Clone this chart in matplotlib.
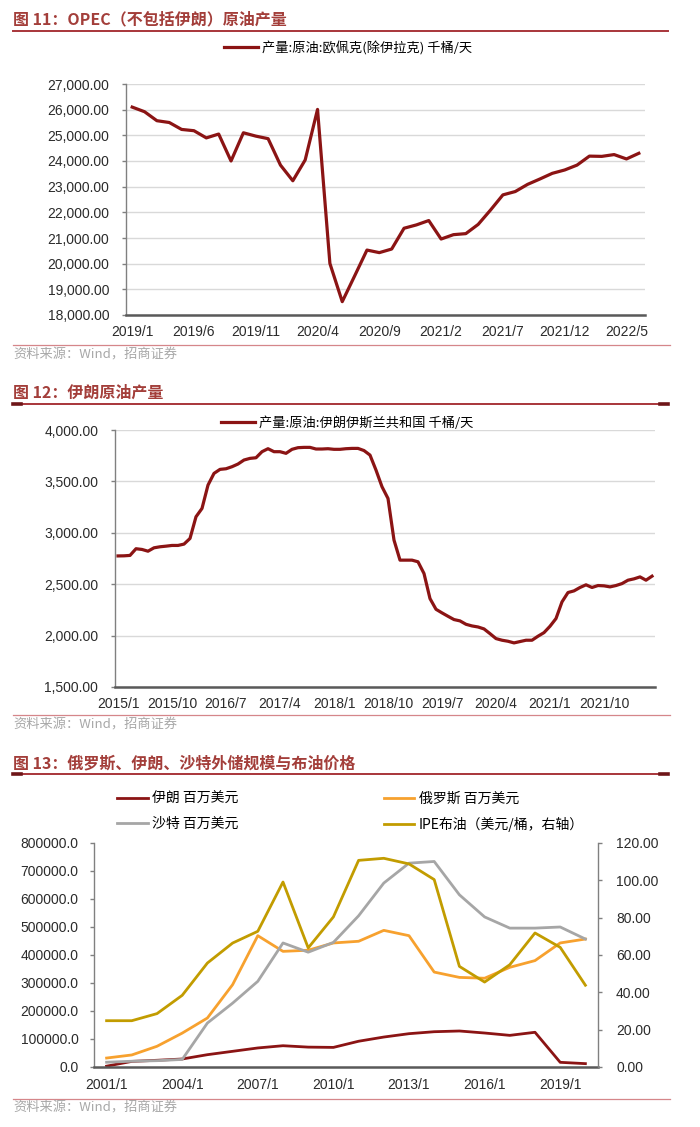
import numpy as np
import pandas as pd
import matplotlib
matplotlib.use('Agg')
import matplotlib.pyplot as plt
from matplotlib.lines import Line2D
from matplotlib.ticker import FuncFormatter, MultipleLocator

plt.rcParams['font.family'] = ['Liberation Sans', 'Noto Sans CJK SC', 'DejaVu Sans']
CJK = ['Noto Sans CJK SC', 'DejaVu Sans']

# 图11 OPEC（不包括伊朗）原油产量, 2019/1 - 2022/6, 千桶/天
opec_months = [f'{p.year}/{p.month}' for p in pd.period_range('2019-01', '2022-06', freq='M')]
opec_prod = [26100, 25920, 25570, 25500, 25230, 25180, 24900, 25050, 24000, 25100,
             24970, 24870, 23840, 23230, 24040, 26010, 20010, 18520, 19520, 20530,
             20430, 20570, 21380, 21510, 21680, 20960, 21130, 21170, 21530, 22090,
             22680, 22810, 23090, 23300, 23520, 23650, 23840, 24190, 24180, 24250,
             24080, 24300]

# 图12 伊朗原油产量, 2015/1 - 2022/6, 千桶/天
iran_months = [f'{p.year}/{p.month}' for p in pd.period_range('2015-01', '2022-06', freq='M')]
iran_prod = [2775, 2776, 2780, 2845, 2838, 2821, 2854, 2864, 2870, 2877,
             2877, 2890, 2945, 3156, 3237, 3464, 3578, 3617, 3623, 3643,
             3669, 3708, 3724, 3730, 3789, 3818, 3789, 3789, 3773, 3812,
             3828, 3831, 3831, 3815, 3815, 3818, 3812, 3812, 3818, 3821,
             3821, 3800, 3756, 3610, 3448, 3334, 2929, 2734, 2734, 2734,
             2718, 2604, 2360, 2256, 2221, 2188, 2156, 2143, 2110, 2094,
             2084, 2065, 2019, 1971, 1955, 1945, 1929, 1942, 1955, 1955,
             1994, 2029, 2091, 2166, 2328, 2419, 2435, 2468, 2494, 2468,
             2487, 2484, 2474, 2487, 2506, 2539, 2552, 2571, 2539, 2578]

# 图13 外储规模（百万美元）与布油价格, 2001/1 - 2020/1
years = [f'{y}/1' for y in range(2001, 2021)]
iran_fx = [3000, 20000, 24000, 28600, 44000, 56000, 68000, 76000, 71000, 70000,
           92000, 107000, 119000, 126000, 128600, 121400, 113000, 124000, 16700, 12000]
russia_fx = [32000, 43000, 74000, 121000, 175000, 294000, 469000, 413000, 417000, 443000,
             449000, 488000, 469000, 339000, 320000, 317000, 356000, 380000, 443000, 457000]
saudi_fx = [17000, 20600, 22600, 27000, 157000, 228000, 306000, 443000, 410000, 445000,
            540000, 657000, 728000, 734000, 615000, 536000, 496000, 496000, 500000, 457000]
brent = [24.8, 24.8, 28.6, 38.4, 55.7, 66.4, 72.7, 99.1, 63.8, 80.4,
         110.7, 111.8, 108.8, 100.4, 53.9, 45.5, 54.8, 71.8, 64.1, 43.8]

W, H = 700, 1127
fig = plt.figure(figsize=(W / 100, H / 100), dpi=100)

DARK_RED = '#8B1414'
TITLE_C = '#A33E3A'
RULE_C = '#A8353A'
SRC_RULE_C = '#D5868A'
TICK_C = '#2B2B2B'


def px_axes(l, t, r, b):
    return fig.add_axes([l / W, 1 - b / H, (r - l) / W, (b - t) / H])


def ftext(x, y, s, **kw):
    fig.text(x / W, 1 - y / H, s, **kw)


def hline(x0, x1, y, **kw):
    fig.add_artist(Line2D([x0 / W, x1 / W], [1 - y / H] * 2, transform=fig.transFigure, **kw))


def header(y_title, y_rule, text, caps=True):
    ftext(13, y_title, text, ha='left', va='center', fontsize=11.5,
          fontweight='bold', color=TITLE_C, family=CJK)
    hline(13, 668, y_rule, color=RULE_C, lw=1.4)
    if caps:
        hline(13, 21, y_rule, color='#6E1518', lw=2.6)
        hline(660, 668, y_rule, color='#6E1518', lw=2.6)


def footer(y_rule, y_text):
    hline(13, 670, y_rule, color=SRC_RULE_C, lw=0.9)
    ftext(13, y_text, '资料来源：Wind，招商证券', ha='left', va='center',
          fontsize=9.5, color='#A8A8A8', family=CJK)


def style_axes(ax):
    ax.spines['top'].set_visible(False)
    ax.spines['right'].set_visible(False)
    ax.spines['left'].set_color('#808080')
    ax.spines['left'].set_linewidth(1.0)
    ax.spines['bottom'].set_color('#595959')
    ax.spines['bottom'].set_linewidth(1.8)
    ax.tick_params(axis='y', length=3, width=1, color='#808080', pad=9,
                   labelsize=10, labelcolor=TICK_C)
    ax.tick_params(axis='x', length=0, pad=7, labelsize=10, labelcolor=TICK_C)


def line_legend(x, y, handles, labels, **kw):
    fig.legend(handles, labels, loc='center', bbox_to_anchor=(x / W, 1 - y / H),
               frameon=False, prop={'family': CJK, 'size': 9.5},
               handlelength=2.6, handletextpad=0.3, borderpad=0, **kw)


# ---------- 图11 ----------
header(19, 31, '图 11：OPEC（不包括伊朗）原油产量', caps=False)
ax1 = px_axes(126, 84, 645, 315)
x1 = np.arange(len(opec_prod))
l1, = ax1.plot(x1, opec_prod, color=DARK_RED, lw=2.3)
ax1.set_xlim(-0.5, len(opec_prod) - 0.5)
ax1.set_ylim(18000, 27000)
ax1.yaxis.set_major_locator(MultipleLocator(1000))
ax1.yaxis.set_major_formatter(FuncFormatter(lambda v, p: f'{v:,.2f}'))
ax1.set_xticks(x1[::5])
ax1.set_xticklabels(opec_months[::5])
ax1.grid(axis='y', color='#D9D9D9', lw=1)
ax1.set_axisbelow(True)
style_axes(ax1)
line_legend(348, 48, [l1], ['产量:原油:欧佩克(除伊拉克) 千桶/天'])
footer(345, 355)

# ---------- 图12 ----------
header(393, 404, '图 12：伊朗原油产量')
ax2 = px_axes(115, 430, 655, 687)
x2 = np.arange(len(iran_prod))
l2, = ax2.plot(x2, iran_prod, color=DARK_RED, lw=2.3)
ax2.set_xlim(-0.5, len(iran_prod) - 0.5)
ax2.set_ylim(1500, 4000)
ax2.yaxis.set_major_locator(MultipleLocator(500))
ax2.yaxis.set_major_formatter(FuncFormatter(lambda v, p: f'{v:,.2f}'))
ax2.set_xticks(x2[::9])
ax2.set_xticklabels(iran_months[::9])
ax2.grid(axis='y', color='#D9D9D9', lw=1)
ax2.set_axisbelow(True)
style_axes(ax2)
line_legend(347, 423, [l2], ['产量:原油:伊朗伊斯兰共和国 千桶/天'])
footer(715, 725)

# ---------- 图13 ----------
header(763, 774, '图 13：俄罗斯、伊朗、沙特外储规模与布油价格')
ax3 = px_axes(94, 843, 598, 1067)
x3 = np.arange(len(years))
h_iran, = ax3.plot(x3, iran_fx, color=DARK_RED, lw=2.0)
h_rus, = ax3.plot(x3, russia_fx, color='#F7A12E', lw=2.0)
h_sau, = ax3.plot(x3, saudi_fx, color='#A6A6A6', lw=2.0)
ax3.set_xlim(-0.5, len(years) - 0.5)
ax3.set_ylim(0, 800000)
ax3.yaxis.set_major_locator(MultipleLocator(100000))
ax3.yaxis.set_major_formatter(FuncFormatter(lambda v, p: f'{v:.1f}'))
ax3.set_xticks(x3[::3])
ax3.set_xticklabels(years[::3])
style_axes(ax3)
ax3.tick_params(axis='y', pad=8)
ax3.tick_params(axis='x', pad=8)

ax3r = ax3.twinx()
h_brent, = ax3r.plot(x3, brent, color='#C29C00', lw=2.0)
ax3r.set_ylim(0, 120)
ax3r.yaxis.set_major_locator(MultipleLocator(20))
ax3r.yaxis.set_major_formatter(FuncFormatter(lambda v, p: f'{v:.2f}'))
for s in ['top', 'left', 'bottom']:
    ax3r.spines[s].set_visible(False)
ax3r.spines['right'].set_color('#808080')
ax3r.spines['right'].set_linewidth(1.0)
ax3r.tick_params(axis='y', length=3, width=1, color='#808080', pad=10,
                 labelsize=10, labelcolor=TICK_C)

fig.legend([h_iran, h_sau, h_rus, h_brent],
           ['伊朗 百万美元', '沙特 百万美元', '俄罗斯 百万美元', 'IPE布油（美元/桶，右轴）'],
           ncol=2, loc='upper left', bbox_to_anchor=(110 / W, 1 - 785 / H),
           frameon=False, prop={'family': CJK, 'size': 10},
           handlelength=2.2, handletextpad=0.3, borderpad=0,
           columnspacing=10.5, labelspacing=0.75)
footer(1099, 1108)

fig.savefig('out.png', dpi=100)
